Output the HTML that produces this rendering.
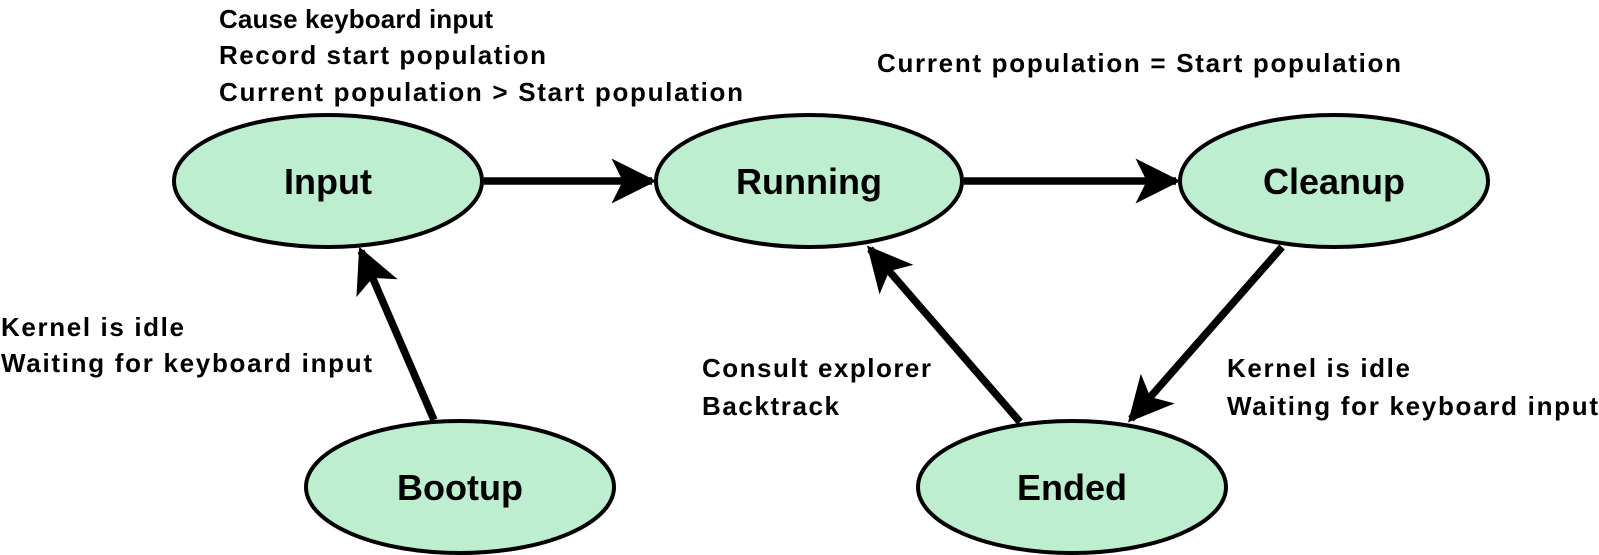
<!DOCTYPE html>
<html><head><meta charset="utf-8"><style>html,body{margin:0;padding:0;background:#fff}svg{display:block}</style></head>
<body>
<svg width="1599" height="555" viewBox="0 0 1599 555" xmlns="http://www.w3.org/2000/svg" font-family="Liberation Sans, sans-serif" font-weight="bold">
<defs>
<marker id="ah" viewBox="0 0 10 10" refX="9" refY="5" markerWidth="6" markerHeight="6" markerUnits="strokeWidth" orient="auto">
<path d="M0,0 L10,5 L0,10 L2.5,5 Z" fill="#000"/>
</marker>
</defs>
<g stroke="#000" stroke-width="7.5" fill="none">
<line x1="484" y1="181" x2="652" y2="181" marker-end="url(#ah)"/>
<line x1="964" y1="181" x2="1176" y2="181" marker-end="url(#ah)"/>
<line x1="434" y1="420" x2="361" y2="251" marker-end="url(#ah)"/>
<line x1="1020" y1="422" x2="870" y2="249" marker-end="url(#ah)"/>
<line x1="1282" y1="247" x2="1131" y2="419" marker-end="url(#ah)"/>
</g>
<g fill="#bdeecf" stroke="#000" stroke-width="4">
<ellipse cx="328" cy="181" rx="154" ry="66"/>
<ellipse cx="809" cy="181" rx="153" ry="66"/>
<ellipse cx="1334" cy="181" rx="154" ry="66"/>
<ellipse cx="460" cy="487" rx="154" ry="66"/>
<ellipse cx="1072" cy="487" rx="154" ry="66"/>
</g>
<g font-size="36" text-anchor="middle" fill="#000">
<text x="328" y="194">Input</text>
<text x="809" y="194">Running</text>
<text x="1334" y="194">Cleanup</text>
<text x="460" y="500">Bootup</text>
<text x="1072" y="500">Ended</text>
</g>
<g font-size="26" fill="#000">
<text x="219" y="28" textLength="274">Cause keyboard input</text>
<text x="219" y="64" textLength="327">Record start population</text>
<text x="219" y="101" textLength="524">Current population &gt; Start population</text>
<text x="877" y="72" textLength="524">Current population = Start population</text>
<text x="1" y="336" textLength="183">Kernel is idle</text>
<text x="1" y="372" textLength="371">Waiting for keyboard input</text>
<text x="702" y="377" textLength="229">Consult explorer</text>
<text x="702" y="415" textLength="137">Backtrack</text>
<text x="1227" y="377" textLength="183">Kernel is idle</text>
<text x="1227" y="415" textLength="371">Waiting for keyboard input</text>
</g>
</svg>
</body></html>
